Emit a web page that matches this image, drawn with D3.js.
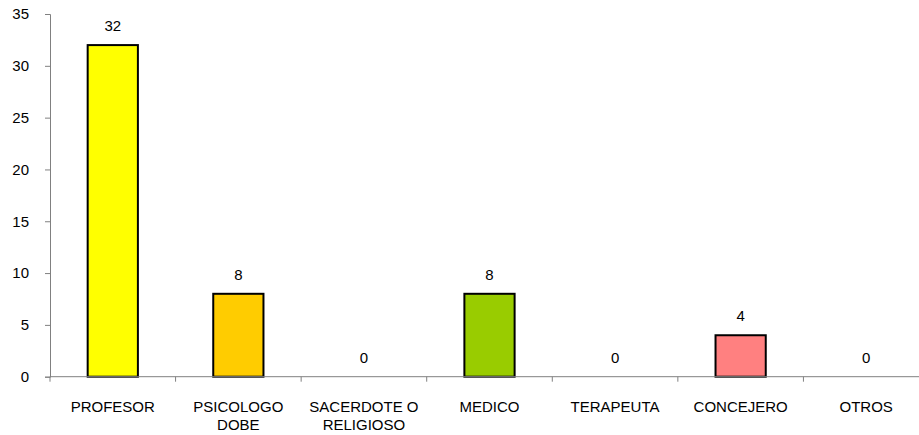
<!DOCTYPE html>
<html><head><meta charset="utf-8">
<script src="https://cdn.jsdelivr.net/npm/d3@7"></script>
<style>body{margin:0;background:#fff}svg{display:block}text{font-family:"Liberation Sans",Arial,sans-serif}</style>
</head><body>
<svg id="c" width="919" height="435"></svg>
<script>
const categories = ["PROFESOR","PSICOLOGO DOBE","SACERDOTE O RELIGIOSO","MEDICO","TERAPEUTA","CONCEJERO","OTROS"];
const categoryLines = [["PROFESOR"],["PSICOLOGO","DOBE"],["SACERDOTE O","RELIGIOSO"],["MEDICO"],["TERAPEUTA"],["CONCEJERO"],["OTROS"]];
const values = [32, 8, 0, 8, 0, 4, 0];
const colors = ["#FFFF00","#FFCC00","#FFFF00","#99CC00","#FFFF00","#FF8080","#FFFF00"];
const yTicks = [0,5,10,15,20,25,30,35];

(function(){
const svg = d3.select("#c");
const mLeft = 50, mRight = 929, mTop = 14, mBottom = 376.7;
const FS = 15;
const x = d3.scaleBand().domain(categories).range([mLeft, mRight]).paddingInner(0.6).paddingOuter(0.3);
const xc = d3.scaleBand().domain(categories).range([mLeft, mRight]);
const y = d3.scaleLinear().domain([0, 35]).range([mBottom, mTop]);

// y axis
const ya = svg.append("g").attr("transform", `translate(${mLeft},0)`)
  .call(d3.axisLeft(y).tickValues(yTicks).tickSize(5).tickPadding(16));
ya.select(".domain").attr("stroke", "#808080");
ya.selectAll(".tick line").attr("stroke", "#808080");
ya.selectAll(".tick text").attr("font-size", FS).attr("fill", "#000").attr("font-family", '"Liberation Sans",Arial,sans-serif');

// bars
svg.append("g").selectAll("rect").data(values).join("rect")
  .attr("x", (d,i) => x(categories[i]))
  .attr("width", x.bandwidth())
  .attr("y", d => y(d))
  .attr("height", d => mBottom - y(d))
  .attr("fill", (d,i) => colors[i])
  .attr("stroke", d => d > 0 ? "#000" : "none")
  .attr("stroke-width", 2);

// x axis
const xa = svg.append("g").attr("transform", `translate(0,${mBottom})`);
xa.append("line").attr("x1", mLeft).attr("x2", mRight).attr("stroke", "#808080");
xa.selectAll("line.t").data(d3.range(categories.length + 1)).join("line").attr("class","t")
  .attr("x1", i => mLeft + i * xc.step()).attr("x2", i => mLeft + i * xc.step())
  .attr("y1", 0).attr("y2", 5).attr("stroke", "#808080");

// category labels
const lbl = svg.append("g").selectAll("text").data(categoryLines).join("text")
  .attr("text-anchor", "middle").attr("font-size", FS).attr("fill", "#000")
  .attr("x", (d,i) => xc(categories[i]) + xc.bandwidth()/2)
  .attr("y", 412);
lbl.selectAll("tspan").data(d => d).join("tspan")
  .attr("x", function(){ return this.parentNode.getAttribute("x"); })
  .attr("dy", (d,j) => j === 0 ? 0 : 17.5)
  .text(d => d);

// value labels
svg.append("g").selectAll("text").data(values).join("text")
  .attr("text-anchor", "middle").attr("font-size", FS).attr("fill", "#000")
  .attr("x", (d,i) => xc(categories[i]) + xc.bandwidth()/2)
  .attr("y", d => y(d) - 14)
  .text(d => d);
})();
</script>
</body></html>
